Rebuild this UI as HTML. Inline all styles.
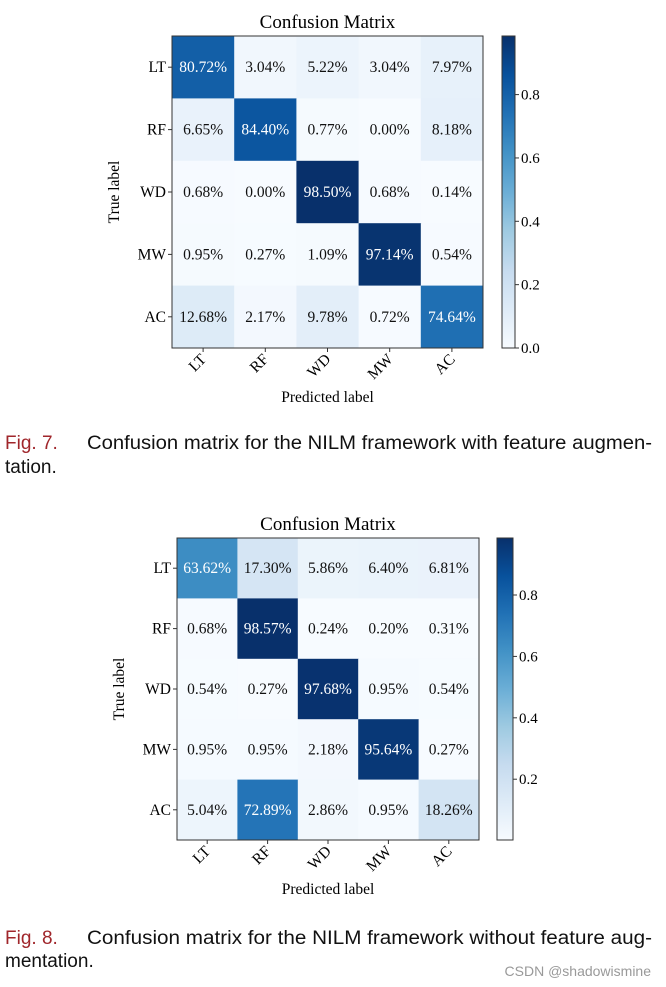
<!DOCTYPE html>
<html><head><meta charset="utf-8"><style>
html,body{margin:0;padding:0;background:#fff;}
svg{display:block;}
.serif{font-family:"Liberation Serif",serif;}
.sans{font-family:"Liberation Sans",sans-serif;}
</style></head><body>
<svg id="fig" width="666" height="987" viewBox="0 0 666 987"></svg>
<script>
const classes = ["LT","RF","WD","MW","AC"];
const valuesA = [
 [80.72,3.04,5.22,3.04,7.97],
 [6.65,84.40,0.77,0.00,8.18],
 [0.68,0.00,98.50,0.68,0.14],
 [0.95,0.27,1.09,97.14,0.54],
 [12.68,2.17,9.78,0.72,74.64]
];
const valuesB = [
 [63.62,17.30,5.86,6.40,6.81],
 [0.68,98.57,0.24,0.20,0.31],
 [0.54,0.27,97.68,0.95,0.54],
 [0.95,0.95,2.18,95.64,0.27],
 [5.04,72.89,2.86,0.95,18.26]
];
const ticksA = [0.0,0.2,0.4,0.6,0.8];
const ticksB = [0.2,0.4,0.6,0.8];

const NS="http://www.w3.org/2000/svg";
const svg=document.getElementById('fig');
const blues=["#f7fbff","#deebf7","#c6dbef","#9ecae1","#6baed6","#4292c6","#2171b5","#08519c","#08306b"];
function hex(h){return [1,3,5].map(i=>parseInt(h.substr(i,2),16));}
function cmap(t){t=Math.max(0,Math.min(1,t));const p=t*8,i=Math.min(7,Math.floor(p)),f=p-i;
 const a=hex(blues[i]),b=hex(blues[i+1]);return "rgb("+a.map((v,k)=>Math.round(v+(b[k]-v)*f)).join(",")+")";}
function el(tag,attrs,parent){const e=document.createElementNS(NS,tag);for(const k in attrs)e.setAttribute(k,attrs[k]);(parent||svg).appendChild(e);return e;}

function drawChart(vals,ticks,L,T,W,H,cbX,cbW,prefix){
 const g=el('g',{});
 
 
 let flat=vals.flat().map(v=>v/100);
 const vmin=Math.min(...flat),vmax=Math.max(...flat);
 const n=classes.length,cw=W/n,ch=H/n;
 const t=el('text',{x:L+W/2,y:T-8,'text-anchor':'middle','font-size':19,class:'serif'},g);
 t.textContent='Confusion Matrix';
 
 
 for(let r=0;r<n;r++)for(let c=0;c<n;c++){
  const v=vals[r][c]/100;
  const rc=el('rect',{x:L+c*cw,y:T+r*ch,width:cw+0.5,height:ch+0.5,fill:cmap((v-vmin)/(vmax-vmin))},g);
  
  
  const tx=el('text',{x:L+(c+0.5)*cw,y:T+(r+0.5)*ch+5,'text-anchor':'middle','font-size':15.5,class:'serif',fill:v>vmax/2?'#fff':'#111'},g);
  tx.textContent=vals[r][c].toFixed(2)+'%';
  
  
 }
 el('rect',{x:L,y:T,width:W,height:H,fill:'none',stroke:'#333','stroke-width':1},g);
 for(let i=0;i<n;i++){
  const y=T+(i+0.5)*ch;
  el('line',{x1:L-4,x2:L,y1:y,y2:y,stroke:'#333'},g);
  const yl=el('text',{x:L-6,y:y+5,'text-anchor':'end','font-size':15.5,class:'serif'},g);
  yl.textContent=classes[i];
  
  
  const x=L+(i+0.5)*cw;
  el('line',{x1:x,x2:x,y1:T+H,y2:T+H+4,stroke:'#333'},g);
  const xl=el('text',{x:x+4,y:T+H+12,'text-anchor':'end','font-size':15.5,class:'serif',transform:'rotate(-45 '+(x+4)+' '+(T+H+12)+')'},g);
  xl.textContent=classes[i];
  
  
 }
 const xt=el('text',{x:L+W/2,y:T+H+54,'text-anchor':'middle','font-size':15.5,class:'serif'},g);
 xt.textContent='Predicted label';
 
 
 const yx=L-53,yy=T+H/2;
 const yt=el('text',{x:yx,y:yy,'text-anchor':'middle','font-size':15.5,class:'serif',transform:'rotate(-90 '+yx+' '+yy+')'},g);
 yt.textContent='True label';
 
 
 const gid=prefix+'-grad';
 const defs=el('defs',{},g);
 const lg=el('linearGradient',{id:gid,x1:0,y1:1,x2:0,y2:0},defs);
 for(let i=0;i<=8;i++)el('stop',{offset:i/8,'stop-color':blues[i]},lg);
 const cb=el('rect',{x:cbX,y:T,width:cbW,height:H,fill:'url(#'+gid+')',stroke:'#333'},g);
 
 
 const ys=v=>T+H-(v-vmin)/(vmax-vmin)*H;
 ticks.forEach(tv=>{
  const y=ys(tv);
  el('line',{x1:cbX+cbW,x2:cbX+cbW+4,y1:y,y2:y,stroke:'#333'},g);
  const tl=el('text',{x:cbX+cbW+6,y:y+5,'font-size':15,class:'serif'},g);
  tl.textContent=tv.toFixed(1);
  
  
 });
}
drawChart(valuesA,ticksA,172,36,311,312,502,13,'fig7');
drawChart(valuesB,ticksB,177,538,302,302,497,16,'fig8');

function caption(y,num,rest,line2,y2,name){
 const n=el('text',{x:5,y:y,'font-size':19,class:'sans',fill:'#a0262b'});
 n.textContent=num;
 
 
 const t=el('text',{x:87,y:y,'font-size':19,class:'sans',fill:'#111',textLength:565,lengthAdjust:'spacingAndGlyphs'});
 t.textContent=rest;
 
 
 const t2=el('text',{x:5,y:y2,'font-size':19,class:'sans',fill:'#111'});
 t2.textContent=line2;
 
 
}
caption(449,'Fig. 7.','Confusion matrix for the NILM framework with feature augmen-','tation.',473,'fig7');
caption(944,'Fig. 8.','Confusion matrix for the NILM framework without feature aug-','mentation.',967,'fig8');
const w=el('text',{x:651,y:976,'text-anchor':'end','font-size':14,class:'sans',fill:'#999'});
w.textContent='CSDN @shadowismine';


</script>
</body></html>
